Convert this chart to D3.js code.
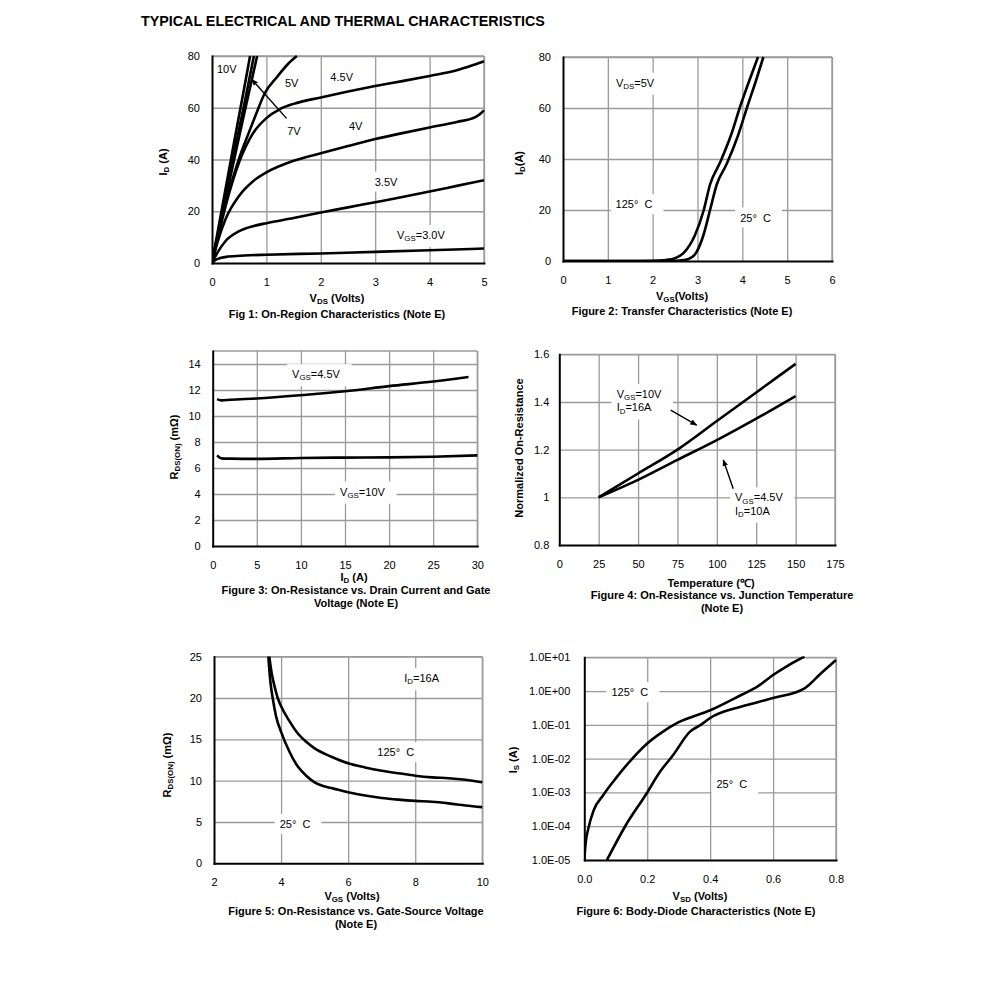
<!DOCTYPE html>
<html><head><meta charset="utf-8">
<script src="https://cdn.jsdelivr.net/npm/d3@7"></script>
<style>body{margin:0;background:#fff}svg{display:block}text{font-family:"Liberation Sans",Arial,sans-serif}</style>
</head><body><svg id="c" width="991" height="982"></svg>
<script>
// ---------- DATA ----------
// Fig 1: On-region characteristics, ID (A) vs VDS (V)
const f1XTicks = [0,1,2,3,4,5];
const f1YTicks = [0,20,40,60,80];
const f1Vgs10 = [[0,0],[0.2,23],[0.4,46],[0.6,68.5],[0.7,80]];
const f1Vgs7  = [[0,0],[0.2,21],[0.4,42],[0.6,62],[0.77,80]];
const f1Vgs6  = [[0,0],[0.2,19.8],[0.4,39.3],[0.6,58.5],[0.83,80]];
const f1Vgs5  = [[0,0],[0.1,10],[0.2,19],[0.3,27],[0.4,34],[0.5,40.5],[0.67,50],[0.8,57],[0.97,65.6],[1.2,72],[1.4,77],[1.56,80]];
const f1Vgs45 = [[0,0],[0.1,9],[0.25,22],[0.5,39],[0.75,50],[1,56],[1.25,59.5],[1.5,61.5],[2,64],[2.5,66.3],[3,68.4],[3.5,70.3],[4,72.3],[4.5,74.5],[4.8,76.5],[5,78]];
const f1Vgs4  = [[0,0],[0.1,8],[0.25,17],[0.5,26],[0.75,31.5],[1,35],[1.5,39.5],[2,42.4],[2.5,45.2],[3,47.9],[3.5,50.2],[4,52.4],[4.5,54.5],[4.85,56.5],[4.95,58],[5,59]];
const f1Vgs35 = [[0,0],[0.1,4],[0.25,8.5],[0.5,12.3],[0.75,14.2],[1,15.4],[1.5,17.4],[2,19.5],[2.5,21.5],[3,23.5],[3.5,25.5],[4,27.6],[4.5,29.8],[5,32]];
const f1Vgs3  = [[0,0],[0.05,1],[0.15,1.9],[0.3,2.5],[0.6,2.9],[1,3.2],[2,3.7],[3,4.3],[4,4.9],[5,5.6]];

// Fig 2: Transfer characteristics, ID (A) vs VGS (V)
const f2XTicks = [0,1,2,3,4,5,6];
const f2YTicks = [0,20,40,60,80];
const f2T125 = [[0,0],[1.5,0],[2.0,0.1],[2.3,0.4],[2.5,1.1],[2.68,3],[2.94,10],[3.14,20],[3.28,30],[3.5,38.5],[3.74,49],[3.95,60.5],[4.15,70.5],[4.35,80]];
const f2T25  = [[0,0],[2.3,0],[2.6,0.2],[2.8,0.8],[2.96,3],[3.13,10],[3.28,20],[3.43,30],[3.65,38],[3.9,49],[4.11,60.5],[4.3,70.5],[4.47,80]];

// Fig 3: RDS(ON) (mOhm) vs ID (A)
const f3XTicks = [0,5,10,15,20,25,30];
const f3YTicks = [0,2,4,6,8,10,12,14];
const f3Vgs45 = [[0.5,11.3],[1,11.2],[2,11.25],[5,11.35],[10,11.6],[15,11.9],[20,12.3],[25,12.65],[29,13.0]];
const f3Vgs10 = [[0.5,6.97],[1,6.74],[2,6.72],[5,6.7],[10,6.77],[15,6.8],[20,6.82],[25,6.87],[30,6.97]];

// Fig 4: Normalized on-resistance vs temperature
const f4XTicks = [0,25,50,75,100,125,150,175];
const f4YTicks = [0.8,1,1.2,1.4,1.6];
const f4YLabels = ["0.8","1","1.2","1.4","1.6"];
const f4Vgs10 = [[25,1],[50,1.10],[75,1.20],[100,1.32],[125,1.44],[150,1.56]];
const f4Vgs45 = [[25,1],[50,1.073],[75,1.157],[100,1.24],[125,1.33],[150,1.425]];

// Fig 5: RDS(ON) (mOhm) vs VGS (V)
const f5XTicks = [2,4,6,8,10];
const f5YTicks = [0,5,10,15,20,25];
const f5T125 = [[3.65,25],[3.72,23],[3.8,21.5],[3.9,20],[4.0,19],[4.25,17.2],[4.5,15.7],[4.75,14.7],[5,13.9],[5.5,12.9],[6,12.1],[6.5,11.6],[7,11.2],[7.5,10.9],[8,10.6],[8.5,10.4],[9,10.3],[9.5,10.1],[10,9.8]];
const f5T25  = [[3.62,25],[3.68,22],[3.75,20],[3.85,17.8],[4.0,15.9],[4.25,13.5],[4.5,11.7],[4.75,10.6],[5,9.8],[5.5,9.1],[6,8.6],[6.5,8.2],[7,7.9],[7.5,7.7],[8,7.55],[8.5,7.45],[9,7.25],[9.5,7.0],[10,6.8]];

// Fig 6: Body diode, IS (A) vs VSD (V), log scale
const f6XTicks = [0,0.2,0.4,0.6,0.8];
const f6XLabels = ["0.0","0.2","0.4","0.6","0.8"];
const f6YTicks = [1e-5,1e-4,1e-3,1e-2,1e-1,1,10];
const f6YLabels = ["1.0E-05","1.0E-04","1.0E-03","1.0E-02","1.0E-01","1.0E+00","1.0E+01"];
const f6T125 = [[0,1e-5],[0.004,3e-5],[0.013,8.7e-5],[0.03,3e-4],[0.06,8.3e-4],[0.1,2.6e-3],[0.135,6.5e-3],[0.2,2.8e-2],[0.25,6.3e-2],[0.3,1.2e-1],[0.4,2.7e-1],[0.5,7.8e-1],[0.55,1.35],[0.6,3.0],[0.65,5.9],[0.7,10.5]];
const f6T25  = [[0.072,1e-5],[0.13,1e-4],[0.198,9.3e-4],[0.24,4e-3],[0.283,1.3e-2],[0.336,6.3e-2],[0.37,1e-1],[0.4,1.6e-1],[0.5,3.5e-1],[0.6,6.2e-1],[0.7,1.2],[0.75,3.2],[0.8,8.3]];

// ---------- DRAWING ----------
const svg = d3.select('#c');
const GRID = '#9a9a9a';
const FONT = '"Liberation Sans",Arial,sans-serif';
const defs = svg.append('defs');
defs.append('marker').attr('id','arr').attr('viewBox','0 0 10 10').attr('refX',9).attr('refY',5)
  .attr('markerWidth',7).attr('markerHeight',7).attr('markerUnits','userSpaceOnUse').attr('orient','auto')
  .append('path').attr('d','M0,1L10,5L0,9Z').attr('fill','#000');

function rich(sel, str, size) {
  const parts = str.split(/(_\{[^}]*\})/).filter(s => s.length);
  let sub = false;
  const sh = size * 0.2;
  parts.forEach(p => {
    if (p.startsWith('_{')) {
      sel.append('tspan').attr('font-size', size * 0.72).attr('dy', sub ? 0 : sh).text(p.slice(2, -1));
      sub = true;
    } else {
      const t = sel.append('tspan').text(p);
      if (sub) t.attr('dy', -sh);
      sub = false;
    }
  });
}

svg.append('text').attr('x', 141).attr('y', 26).attr('font-size', 14.3).attr('font-weight', 'bold')
  .text('TYPICAL ELECTRICAL AND THERMAL CHARACTERISTICS');

function drawChart(c) {
  const g = svg.append('g');
  const x = d3.scaleLinear().domain(c.xDomain).range([c.L, c.R]);
  const y = (c.log ? d3.scaleLog() : d3.scaleLinear()).domain(c.yDomain).range([c.B, c.T]);
  const cid = 'clip' + c.id;
  defs.append('clipPath').attr('id', cid).append('rect')
    .attr('x', c.L).attr('y', c.T - 1).attr('width', c.R - c.L + 1).attr('height', c.B - c.T + 1);

  const gridG = g.append('g');
  const boxG = g.append('g');
  const curveG = g.append('g').attr('clip-path', `url(#${cid})`);
  const axG = g.append('g');
  const txtG = g.append('g');

  // grid
  gridG.append('g').attr('transform', `translate(0,${c.B})`)
    .call(d3.axisBottom(x).tickValues(c.xTicks.filter(v => v !== c.xDomain[0])).tickSize(-(c.B - c.T)).tickSizeOuter(0).tickFormat(''))
    .call(s => { s.select('.domain').remove(); s.selectAll('line').attr('stroke', GRID).attr('stroke-width', 1.3); });
  gridG.append('g').attr('transform', `translate(${c.L},0)`)
    .call(d3.axisLeft(y).tickValues(c.yTicks.filter(v => v !== c.yDomain[0])).tickSize(-(c.R - c.L)).tickSizeOuter(0).tickFormat(''))
    .call(s => { s.select('.domain').remove(); s.selectAll('line').attr('stroke', GRID).attr('stroke-width', 1.3); });
  gridG.append('line').attr('x1', c.L).attr('x2', c.R).attr('y1', c.T).attr('y2', c.T).attr('stroke', GRID).attr('stroke-width', 1.3);
  gridG.append('line').attr('x1', c.R).attr('x2', c.R).attr('y1', c.T).attr('y2', c.B).attr('stroke', GRID).attr('stroke-width', 1.3);

  // curves
  const line = d3.line().x(d => x(d[0])).y(d => y(d[1])).curve(d3.curveMonotoneX);
  c.series.forEach(s => curveG.append('path').datum(s).attr('d', line)
    .attr('fill', 'none').attr('stroke', '#000').attr('stroke-width', 2.6).attr('stroke-linejoin', 'round'));

  // axes
  const xa = axG.append('g').attr('transform', `translate(0,${c.B})`)
    .call(d3.axisBottom(x).tickValues(c.xTicks).tickSize(0).tickSizeOuter(0).tickPadding(15)
      .tickFormat((d, i) => c.xLabels ? c.xLabels[i] : d));
  const ya = axG.append('g').attr('transform', `translate(${c.L},0)`)
    .call(d3.axisLeft(y).tickValues(c.yTicks).tickSize(0).tickSizeOuter(0).tickPadding(c.yPad || 12)
      .tickFormat((d, i) => c.yLabels ? c.yLabels[i] : d));
  [xa, ya].forEach(a => {
    a.attr('font-size', 11).attr('font-family', FONT);
    a.select('.domain').attr('stroke', '#000').attr('stroke-width', 2).attr('stroke-linecap', 'square');
    a.selectAll('text').attr('fill', '#000');
  });

  // axis titles and captions
  const xt = txtG.append('text').attr('x', c.xTitle[1]).attr('y', c.xTitle[2]).attr('text-anchor', 'middle')
    .attr('font-size', 11).attr('font-weight', 'bold');
  rich(xt, c.xTitle[0], 11);
  const yt = txtG.append('text').attr('transform', `translate(${c.yTitle[1]},${c.yTitle[2]}) rotate(-90)`)
    .attr('text-anchor', 'middle').attr('font-size', 11).attr('font-weight', 'bold');
  rich(yt, c.yTitle[0], 11);
  c.caption.forEach((t, i) => txtG.append('text').attr('x', c.capX).attr('y', c.capY + i * 13)
    .attr('text-anchor', 'middle').attr('font-size', 11).attr('font-weight', 'bold').text(t));

  // in-plot labels (with white boxes)
  (c.labels || []).forEach(l => {
    const t = txtG.append('text').attr('x', x(l.x)).attr('y', y(l.y)).attr('dy', '0.35em')
      .attr('text-anchor', l.anchor || 'middle').attr('font-size', 11).attr('xml:space', 'preserve');
    rich(t, l.t, 11);
    if (l.box !== false) {
      const b = t.node().getBBox();
      boxG.append('rect').attr('x', b.x - 5).attr('y', b.y - 4).attr('width', b.width + 16).attr('height', b.height + 8).attr('fill', '#fff');
    }
  });
  (c.arrows || []).forEach(a => {
    txtG.append('line').attr('x1', x(a[0][0])).attr('y1', y(a[0][1])).attr('x2', x(a[1][0])).attr('y2', y(a[1][1]))
      .attr('stroke', '#000').attr('stroke-width', 1.4).attr('marker-end', 'url(#arr)');
  });
}

drawChart({ id: 1, L: 212, R: 484, T: 56, B: 263, xDomain: [0, 5], yDomain: [0, 80],
  xTicks: f1XTicks, yTicks: f1YTicks,
  series: [f1Vgs10, f1Vgs7, f1Vgs6, f1Vgs5, f1Vgs45, f1Vgs4, f1Vgs35, f1Vgs3],
  xTitle: ['V_{DS} (Volts)', 337, 302], yTitle: ['I_{D} (A)', 167, 162],
  caption: ['Fig 1: On-Region Characteristics (Note E)'], capX: 337, capY: 318,
  labels: [
    { t: '10V', x: 0.27, y: 74.9, box: false },
    { t: '5V', x: 1.465, y: 69.4 },
    { t: '7V', x: 1.507, y: 51.1 },
    { t: '4.5V', x: 2.384, y: 71.8 },
    { t: '4V', x: 2.64, y: 52.9 },
    { t: '3.5V', x: 3.2, y: 31.4 },
    { t: 'V_{GS}=3.0V', x: 3.84, y: 10.8 }
  ],
  arrows: [[[1.37, 55.9], [0.73, 71]]]
});

drawChart({ id: 2, L: 563, R: 832, T: 57, B: 261, xDomain: [0, 6], yDomain: [0, 80],
  xTicks: f2XTicks, yTicks: f2YTicks,
  series: [f2T125, f2T25],
  xTitle: ['V_{GS}(Volts)', 682, 300], yTitle: ['I_{D}(A)', 523, 163],
  caption: ['Figure 2: Transfer Characteristics (Note E)'], capX: 682, capY: 315,
  labels: [
    { t: 'V_{DS}=5V', x: 1.606, y: 69.9 },
    { t: '125°\u00a0 C', x: 1.584, y: 22.2 },
    { t: '25°\u00a0 C', x: 4.294, y: 17.0 }
  ]
});

drawChart({ id: 3, L: 212.7, R: 477.3, T: 351, B: 546, xDomain: [0, 30], yDomain: [0, 15],
  xTicks: f3XTicks, yTicks: f3YTicks,
  series: [f3Vgs45, f3Vgs10],
  xTitle: ['I_{D} (A)', 354, 581], yTitle: ['R_{DS(ON)} (mΩ)', 178, 447],
  caption: ['Figure 3: On-Resistance vs. Drain Current and Gate', 'Voltage (Note E)'], capX: 356, capY: 594,
  labels: [
    { t: 'V_{GS}=4.5V', x: 11.71, y: 13.21 },
    { t: 'V_{GS}=10V', x: 16.98, y: 4.18 }
  ]
});

drawChart({ id: 4, L: 559.3, R: 835, T: 354.3, B: 545, xDomain: [0, 175], yDomain: [0.8, 1.6],
  xTicks: f4XTicks, yTicks: f4YTicks, yLabels: f4YLabels, yPad: 10,
  series: [f4Vgs10, f4Vgs45],
  xTitle: ['Temperature (℃)', 711, 587], yTitle: ['Normalized On-Resistance', 523, 448],
  caption: ['Figure 4: On-Resistance vs. Junction Temperature', '(Note E)'], capX: 722, capY: 599,
  labels: [
    { t: 'V_{GS}=10V', x: 36.4, y: 1.432, anchor: 'start' },
    { t: 'I_{D}=16A', x: 36.4, y: 1.377, anchor: 'start' },
    { t: 'V_{GS}=4.5V', x: 111.5, y: 0.999, anchor: 'start' },
    { t: 'I_{D}=10A', x: 111.5, y: 0.944, anchor: 'start' }
  ],
  arrows: [[[70.7, 1.366], [87.2, 1.303]], [[110.4, 1.036], [104.1, 1.157]]]
});

drawChart({ id: 5, L: 214, R: 482.3, T: 656.7, B: 863.3, xDomain: [2, 10], yDomain: [0, 25],
  xTicks: f5XTicks, yTicks: f5YTicks,
  series: [f5T125, f5T25],
  xTitle: ['V_{GS} (Volts)', 352, 900], yTitle: ['R_{DS(ON)} (mΩ)', 171, 765],
  caption: ['Figure 5: On-Resistance vs. Gate-Source Voltage', '(Note E)'], capX: 356, capY: 915,
  labels: [
    { t: 'I_{D}=16A', x: 8.19, y: 22.39 },
    { t: '125°\u00a0 C', x: 7.42, y: 13.43 },
    { t: '25°\u00a0 C', x: 4.415, y: 4.76 }
  ]
});

drawChart({ id: 6, L: 584.3, R: 836, T: 657.3, B: 860, xDomain: [0, 0.8], yDomain: [1e-5, 10], log: true,
  xTicks: f6XTicks, xLabels: f6XLabels, yTicks: f6YTicks, yLabels: f6YLabels, yPad: 14,
  series: [f6T125, f6T25],
  xTitle: ['V_{SD} (Volts)', 700, 900], yTitle: ['I_{S} (A)', 517, 760],
  caption: ['Figure 6: Body-Diode Characteristics (Note E)'], capX: 696, capY: 915,
  labels: [
    { t: '125°\u00a0 C', x: 0.145, y: 0.92 },
    { t: '25°\u00a0 C', x: 0.469, y: 1.74e-3 }
  ]
});
</script>
</body></html>
